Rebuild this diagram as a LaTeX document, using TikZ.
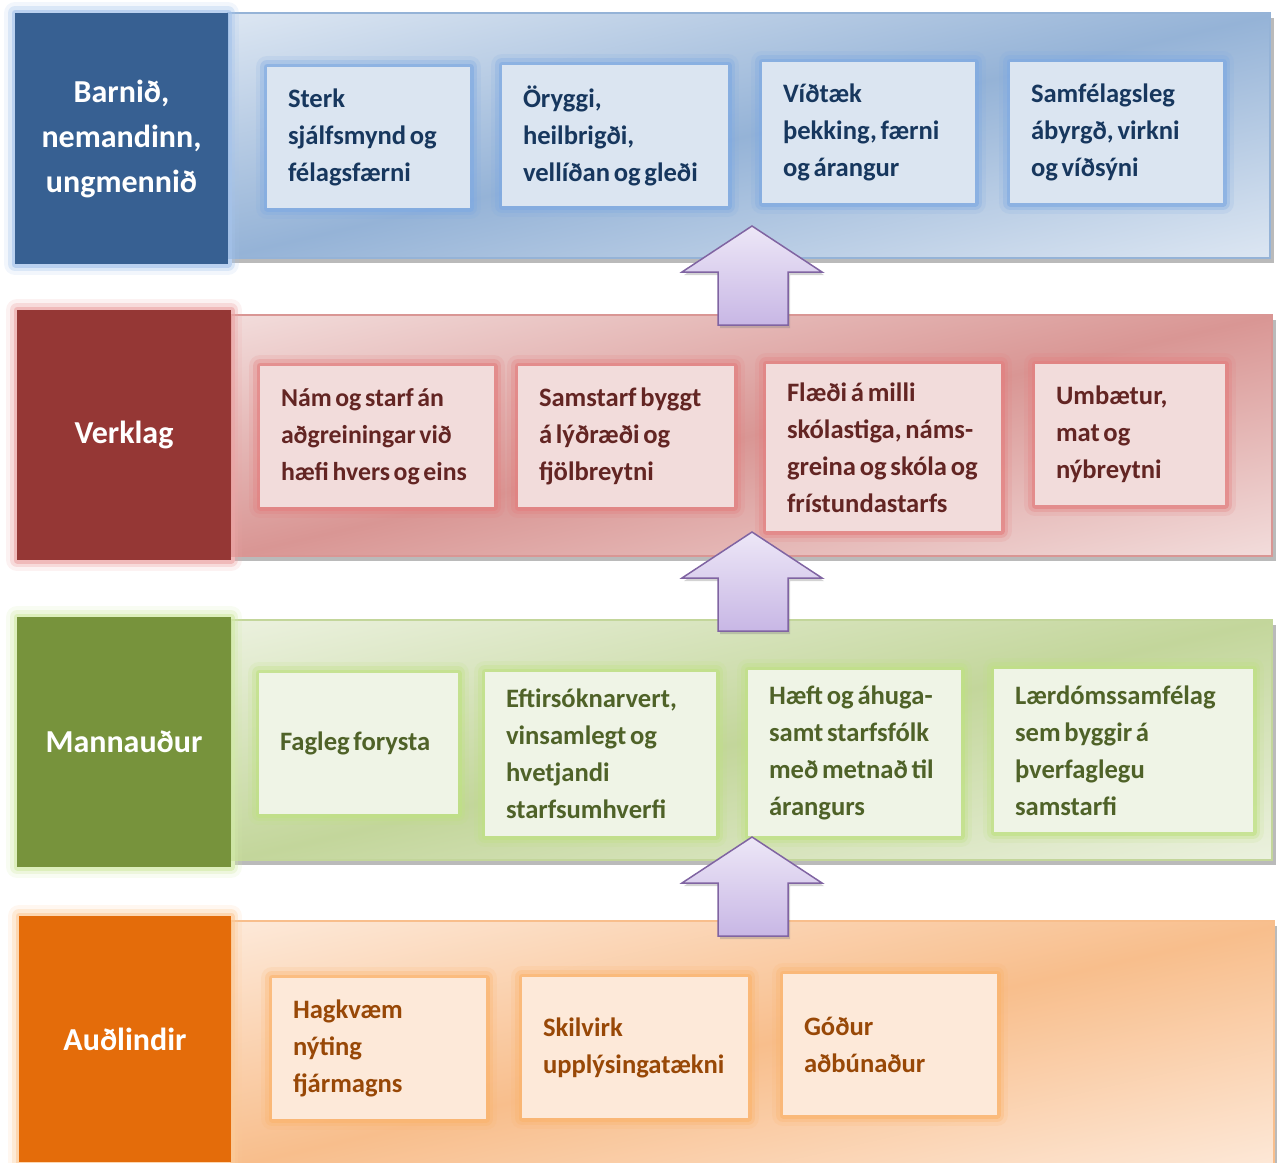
\documentclass[tikz,border=0pt]{standalone}
\usepackage{fontspec}
\setmainfont{Carlito}[WordSpace=0.62]
\usetikzlibrary{shadows}

%--- Colours ---
\definecolor{blueHead}{HTML}{376092}
\definecolor{blueGlow}{HTML}{7FAAE2}
\definecolor{blueFill}{HTML}{DBE5F1}
\definecolor{blueText}{HTML}{17375E}
\definecolor{blueLight}{HTML}{DCE6F2}
\definecolor{blueDark}{HTML}{95B3D7}
\definecolor{redHead}{HTML}{953735}
\definecolor{redGlow}{HTML}{E37F7F}
\definecolor{redFill}{HTML}{F2DCDB}
\definecolor{redText}{HTML}{632523}
\definecolor{redLight}{HTML}{F2DCDB}
\definecolor{redDark}{HTML}{D99694}
\definecolor{greenHead}{HTML}{77933C}
\definecolor{greenGlow}{HTML}{BFE183}
\definecolor{greenFill}{HTML}{EFF4E6}
\definecolor{greenText}{HTML}{4F6228}
\definecolor{greenLight}{HTML}{EBF1DE}
\definecolor{greenDark}{HTML}{C3D69B}
\definecolor{orangeHead}{HTML}{E46C0A}
\definecolor{orangeGlow}{HTML}{FBB46D}
\definecolor{orangeFill}{HTML}{FDE9D9}
\definecolor{orangeText}{HTML}{984807}
\definecolor{orangeLight}{HTML}{FDE9D9}
\definecolor{orangeDark}{HTML}{F8BE8C}
\definecolor{arrowTop}{HTML}{EDE7F7}
\definecolor{arrowBottom}{HTML}{C8B7E5}
\definecolor{arrowLine}{HTML}{8064A2}

%--- Band shadings ---
\pgfdeclarehorizontalshading{shadeBlue}{100bp}{color(0bp)=(blueLight); color(20bp)=(blueLight); color(50bp)=(blueDark); color(80bp)=(blueLight); color(100bp)=(blueLight)}
\pgfdeclarehorizontalshading{shadeRed}{100bp}{color(0bp)=(redLight); color(20bp)=(redLight); color(50bp)=(redDark); color(80bp)=(redLight); color(100bp)=(redLight)}
\pgfdeclarehorizontalshading{shadeGreen}{100bp}{color(0bp)=(greenLight); color(20bp)=(greenLight); color(50bp)=(greenDark); color(80bp)=(greenLight); color(100bp)=(greenLight)}
\pgfdeclarehorizontalshading{shadeOrange}{100bp}{color(0bp)=(orangeLight); color(20bp)=(orangeLight); color(50bp)=(orangeDark); color(80bp)=(orangeLight); color(100bp)=(orangeLight)}

\begin{document}
\begin{tikzpicture}[x=1pt,y=-1pt,
		glow/.style={preaction={draw=#1,line width=22pt,opacity=0.15,line join=round},
			preaction={draw=#1,line width=14pt,opacity=0.3,line join=round},
			preaction={draw=#1,line width=7pt,opacity=0.6,line join=round}},
		band/.style 2 args={shade,shading=#1,shading angle=-77,draw=#2,line width=1.2pt,inner sep=0pt,
			drop shadow={shadow xshift=4pt,shadow yshift=-5pt,opacity=0.6,fill=black!45}},
		head/.style={fill=#1,text=white,font=\bfseries\fontsize{32}{45}\selectfont,align=center,inner sep=0pt},
		item/.style 2 args={fill=#1,text=#2,font=\bfseries\fontsize{26.6}{37}\selectfont,align=flush left,
			inner xsep=21pt,inner ysep=0pt,execute at begin node={\rightskip=-16pt plus 1fil}},
		itemB/.style={item={blueFill}{blueText},glow=blueGlow},
		itemR/.style={item={redFill}{redText},glow=redGlow},
		itemG/.style={item={greenFill}{greenText},glow=greenGlow},
		itemO/.style={item={orangeFill}{orangeText},glow=orangeGlow},
		upArrow/.style={top color=arrowTop,bottom color=arrowBottom,draw=arrowLine,line width=1.5pt,line join=miter,
			drop shadow={shadow xshift=2pt,shadow yshift=-3pt,opacity=0.35,fill=black!50}}]
	
	\useasboundingbox (0,0) rectangle (1277,1162);
	
	%--- Bands ---
	\node[band={shadeBlue}{blueDark},minimum width=1042pt,minimum height=245pt] (bandB) at (749,135.5) {};
	\node[band={shadeRed}{redDark},minimum width=1041pt,minimum height=241pt] (bandR) at (751.5,435.5) {};
	\node[band={shadeGreen}{greenDark},minimum width=1041pt,minimum height=240pt] (bandG) at (751.5,740) {};
	\node[band={shadeOrange}{orangeDark},minimum width=1043pt,minimum height=251pt] (bandO) at (752.5,1046.5) {};
	
	%--- Head boxes ---
	\node[head=blueHead,glow=blueGlow!70,minimum width=213pt,minimum height=251pt] (headB) at (121.5,138.5) {Barnið,\\nemandinn,\\ungmennið};
	\node[head=redHead,glow=redGlow!70,minimum width=214pt,minimum height=250pt] (headR) at (124,435) {Verklag};
	\node[head=greenHead,glow=greenGlow!70,minimum width=214pt,minimum height=250pt] (headG) at (124,742) {Mannauður};
	\node[head=orangeHead,glow=orangeGlow!70,minimum width=212pt,minimum height=246pt] (headO) at (125,1039) {Auðlindir};
	
	%--- Blue row ---
	\node[itemB,text width=161pt,minimum height=141pt] (b1) at (368.5,137.5) {Sterk\\sjálfsmynd og\\félagsfærni};
	\node[itemB,text width=184pt,minimum height=141pt] (b2) at (615,135.5) {Öryggi,\\heilbrigði,\\vellíðan og gleði};
	\node[itemB,text width=171pt,minimum height=141pt] (b3) at (868.5,132.5) {Víðtæk\\þekking, færni\\og árangur};
	\node[itemB,text width=171pt,minimum height=141pt] (b4) at (1116.5,132.5) {Samfélagsleg\\ábyrgð, virkni\\og víðsýni};
	
	%--- Red row ---
	\node[itemR,font=\bfseries\fontsize{25.8}{37}\selectfont,text width=192pt,minimum height=141pt] (r1) at (377,436.5) {Nám og starf án\\aðgreiningar við\\hæfi hvers og eins};
	\node[itemR,text width=174pt,minimum height=141pt] (r2) at (626,436.5) {Samstarf byggt\\á lýðræði og\\fjölbreytni};
	\node[itemR,text width=193pt,minimum height=167pt] (r3) at (883.5,447.5) {Flæði á milli\\skólastiga, náms-\\greina og skóla og\\frístundastarfs};
	\node[itemR,text width=148pt,minimum height=141pt] (r4) at (1130,434.5) {Umbætur,\\mat og\\nýbreytni};
	
	%--- Green row ---
	\node[itemG,text width=157pt,minimum height=141pt] (g1) at (358.5,743.5) {Fagleg forysta};
	\node[itemG,text width=189pt,minimum height=164pt] (g2) at (600.5,754) {Eftirsóknarvert,\\vinsamlegt og\\hvetjandi\\starfsumhverfi};
	\node[itemG,text width=171pt,minimum height=166pt] (g3) at (854.5,753) {Hæft og áhuga-\\samt starfsfólk\\með metnað til\\árangurs};
	\node[itemG,text width=217pt,minimum height=163pt] (g4) at (1123.5,750.5) {Lærdómssamfélag\\sem byggir á\\þverfaglegu\\samstarfi};
	
	%--- Orange row ---
	\node[itemO,text width=172pt,minimum height=141pt] (o1) at (379,1048.5) {Hagkvæm\\nýting\\fjármagns};
	\node[itemO,text width=184pt,minimum height=141pt] (o2) at (635,1047.5) {Skilvirk\\upplýsingatækni};
	\node[itemO,text width=172pt,minimum height=141pt] (o3) at (890,1044.5) {Góður\\aðbúnaður};
	
	%--- Up arrows ---
	\foreach \t in {226,532,837}
		\draw[upArrow] (752,\t) -- (822,\t+46) -- (788,\t+46) -- (788,\t+99) -- (718,\t+99) -- (718,\t+46) -- (682,\t+46) -- cycle;
	
\end{tikzpicture}
\end{document}
